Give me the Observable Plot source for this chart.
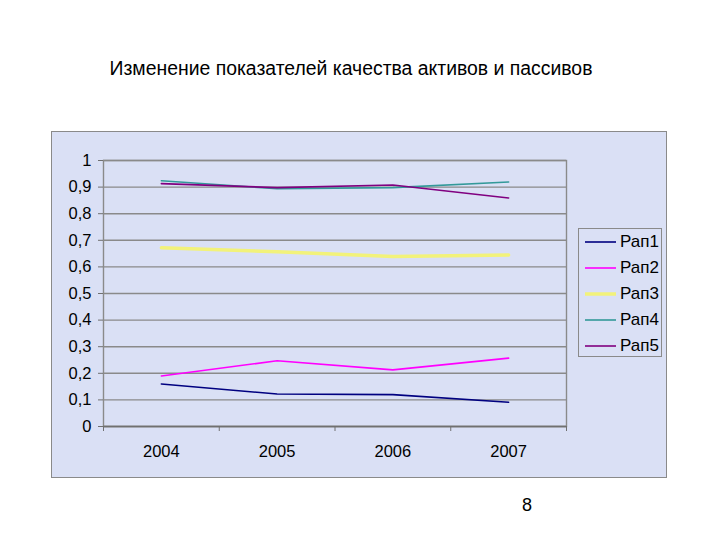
<!DOCTYPE html>
<html>
<head>
<meta charset="utf-8">
<script src="https://cdn.jsdelivr.net/npm/d3@7"></script>
<script src="https://cdn.jsdelivr.net/npm/@observablehq/plot@0.6"></script>
<style>
  html, body { margin: 0; padding: 0; background: #ffffff; }
  body { width: 720px; height: 540px; position: relative; overflow: hidden;
         font-family: "Liberation Sans", Arial, sans-serif; color: #000; }
  #title { position: absolute; left: 0; width: 702px; top: 57px; text-align: center;
           font-size: 19.4px; line-height: 22px; }
  #page { position: absolute; left: 522px; top: 494px; font-size: 18px; line-height: 22px; }
  #chart { position: absolute; left: 52px; top: 132px; }
  #chart svg { display: block; }
  #border { position: absolute; left: 51px; top: 131px; width: 614px; height: 345px;
            border: 1px solid #8a8a8a; pointer-events: none; }
  #legend { position: absolute; left: 578px; top: 228px; width: 84px; height: 129px;
            border: 1px solid #8a8a8a; background: #dae0f5; box-sizing: border-box; }
  .item { position: absolute; left: 6px; height: 22px; font-size: 17px; line-height: 22px; }
  .item svg { position: absolute; left: 0; top: 0; }
  .item span { position: absolute; left: 35px; top: 0; white-space: nowrap; }
</style>
</head>
<body>
<div id="title">Изменение показателей качества активов и пассивов</div>
<div id="chart"></div>
<div id="border"></div>
<div id="legend"></div>
<div id="page">8</div>
<script>
const years = [2004, 2005, 2006, 2007];
const seriesNames = ["Рап1", "Рап2", "Рап3", "Рап4", "Рап5"];
const rap1 = [0.16, 0.122, 0.12, 0.091];
const rap2 = [0.19, 0.247, 0.213, 0.257];
const rap3 = [0.672, 0.657, 0.639, 0.645];
const rap4 = [0.924, 0.894, 0.898, 0.919];
const rap5 = [0.913, 0.898, 0.908, 0.859];
const yTicks = [0, 0.1, 0.2, 0.3, 0.4, 0.5, 0.6, 0.7, 0.8, 0.9, 1];
const seriesColors = ["#000080", "#ff00ff", "#f2f27a", "#339999", "#800080"];
const seriesWidths = [1.6, 1.6, 3.5, 1.6, 1.6];

const allValues = [rap1, rap2, rap3, rap4, rap5];
const data = [];
seriesNames.forEach((name, i) => {
  years.forEach((yr, j) => data.push({series: name, year: yr, value: allValues[i][j]}));
});
const bounds = [years[0] - 0.5, ...years.map(y => y + 0.5)];
const fmt = d => String(d).replace(".", ",");

const marks = [
  Plot.gridY(yTicks, {stroke: "#8a8a8a", strokeOpacity: 1, strokeWidth: 1.4}),
  Plot.frame({stroke: "#8a8a8a", strokeWidth: 1.4}),
  Plot.axisY(yTicks, {tickSize: 5, tickPadding: 7, tickFormat: fmt, stroke: "#707070", label: null}),
  Plot.axisX(years, {tickSize: 0, tickPadding: 19, tickFormat: d => String(d), label: null}),
  Plot.axisX(bounds, {tickSize: 5, tickFormat: () => "", stroke: "#707070", label: null}),
  Plot.ruleY([0], {stroke: "#707070", strokeWidth: 1.4})
];
seriesNames.forEach((name, i) => {
  marks.push(Plot.line(data.filter(d => d.series === name), {
    x: "year", y: "value", stroke: seriesColors[i], strokeWidth: seriesWidths[i]
  }));
});

const chart = Plot.plot({
  width: 614,
  height: 345,
  marginLeft: 51,
  marginRight: 100,
  marginTop: 28,
  marginBottom: 51,
  style: {background: "#dae0f5", fontFamily: "'Liberation Sans', Arial, sans-serif", fontSize: "16.5px", color: "#000", overflow: "visible"},
  x: {domain: [bounds[0], bounds[bounds.length - 1]], axis: null},
  y: {domain: [0, 1], axis: null},
  marks
});
document.getElementById("chart").appendChild(chart);

const legend = document.getElementById("legend");
seriesNames.forEach((name, i) => {
  const div = document.createElement("div");
  div.className = "item";
  div.style.top = (2 + i * 26) + "px";
  div.innerHTML = `<svg width="34" height="22"><line x1="0" x2="31" y1="11" y2="11" stroke="${seriesColors[i]}" stroke-width="${seriesWidths[i]}"/></svg><span>${name}</span>`;
  legend.appendChild(div);
});
</script>
</body>
</html>
